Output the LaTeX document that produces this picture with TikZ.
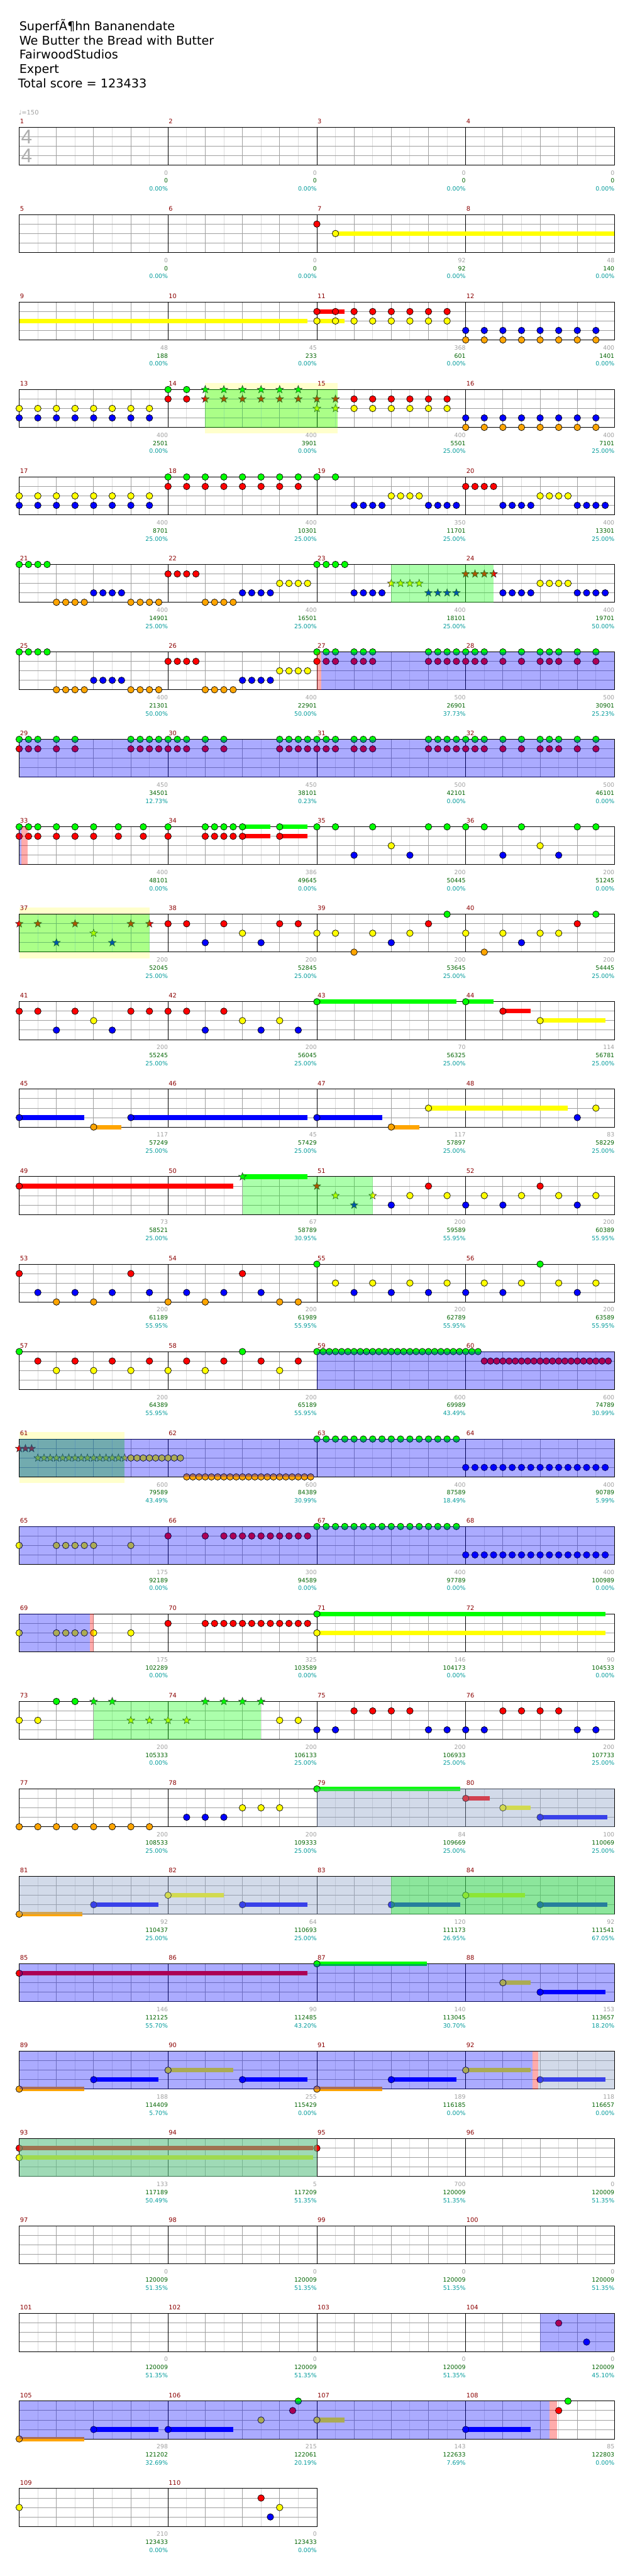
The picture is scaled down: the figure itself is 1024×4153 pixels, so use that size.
\documentclass[tikz,border=0pt]{standalone}
\usepackage{fontspec}
\setmainfont{DejaVu Sans}
\newfontfamily\arialf{Liberation Sans}
\definecolor{lane0}{HTML}{00FF00}
\definecolor{lane1}{HTML}{FF0000}
\definecolor{lane2}{HTML}{FFFF00}
\definecolor{lane3}{HTML}{0000FF}
\definecolor{lane4}{HTML}{FFA500}
\definecolor{mnumc}{HTML}{8B0000}
\definecolor{tgray}{HTML}{A0A0A0}
\definecolor{tgreen}{HTML}{006400}
\definecolor{tcyan}{HTML}{009B9B}
\definecolor{gridd}{HTML}{A0A0A0}
\definecolor{gridl}{HTML}{DCDCDC}
\definecolor{ybg}{HTML}{FFFFCC}
\definecolor{steel}{HTML}{8FA3C8}
\newcommand\setpos[3]{%
  \pgfmathtruncatemacro\rk{(#1-1)/4}%
  \pgfmathsetmacro\px{31+240*(#1-1-4*\rk)+30*(#2)}%
  \pgfmathsetmacro\py{205+141*\rk+15.25*(#3)}}
\newcommand\nt[3]{\setpos{#1}{#2}{#3}%
  \filldraw[fill=lane#3,draw=black,line width=0.7pt] (\px,\py) circle[radius=5.3pt];}
\newcommand\st[3]{\setpos{#1}{#2}{#3}%
  \filldraw[fill=lane#3,draw=black!80,line width=0.6pt] (\px,\py) +(90:6.5pt) -- +(126:2.7pt) -- +(162:6.5pt) -- +(198:2.7pt) -- +(234:6.5pt) -- +(270:2.7pt) -- +(306:6.5pt) -- +(342:2.7pt) -- +(18:6.5pt) -- +(54:2.7pt) -- cycle;}
\newcommand\sus[4]{\setpos{#1}{#2}{#4}%
  \pgfmathsetmacro\pxb{\px+30*((#3)-(#2))}%
  \fill[lane#4] (\px,\py-3.6) rectangle (\pxb,\py+3.6);}
\newcommand\ms[3]{\foreach \tq in {#3}{\nt{#1}{\tq}{#2}}}
\newcommand\mst[3]{\foreach \tq in {#3}{\st{#1}{\tq}{#2}}}
\newcommand\ovl[5]{\setpos{#2}{#3}{0}\let\oxa\px\let\oya\py\setpos{#4}{#5}{4}%
  \fill[#1] (\oxa,\oya) rectangle (\px,\py);}
\newcommand\ybgr[4]{\setpos{#1}{#2}{0}\let\oxa\px\let\oya\py\setpos{#3}{#4}{4}%
  \fill[ybg] (\oxa,\oya-11) rectangle (\px,\py+10);}
\newcommand\ovx[4]{\fill[#1] (#3,{205+141*#2}) rectangle (#4,{266+141*#2});}
\begin{document}
\begin{tikzpicture}[x=1pt,y=-1pt,
  hdr/.style={anchor=base west,inner sep=0pt,font=\fontsize{19.5}{23}\selectfont},
  mn/.style={anchor=base west,inner sep=0pt,text=mnumc,font=\fontsize{10}{12}\selectfont},
  ft/.style={anchor=base east,inner sep=0pt,font=\fontsize{9.5}{11}\selectfont},
  gov/.style={green,opacity=0.33},
  bov/.style={blue,opacity=0.33},
  sov/.style={steel,opacity=0.4},
  pov/.style={red,opacity=0.33}]
\useasboundingbox (0,0) rectangle (1024,4153);
\fill[white] (0,0) rectangle (1024,4153);
% header
\node[hdr] (t1) at (31,49) {SuperfÃ¶hn Bananendate};
\node[hdr] (t2) at (31,72) {We Butter the Bread with Butter};
\node[hdr] (t3) at (31,95) {FairwoodStudios};
\node[hdr] (t4) at (31,118) {Expert};
\node[hdr] (t5) at (29,141) {Total score = 123433};
\node[anchor=base west,inner sep=0pt,text=tgray,font=\fontsize{10}{12}\selectfont] (tempo) at (30,185) {♩=150};
% star phrase backgrounds
\ybgr{14}{2}{15}{1.1}
\ybgr{37}{0}{37}{7}
\ybgr{61}{0}{61}{5.67}
% staff grid
\foreach \k in {0,...,27}{
  \pgfmathtruncatemacro\nm{\k==27 ? 2 : 4}
  \pgfmathsetmacro\tp{205+141*\k}
  \pgfmathsetmacro\bt{\tp+61}
  \pgfmathsetmacro\xe{31+240*\nm}
  \pgfmathtruncatemacro\nh{4*\nm-1}
  \foreach \j in {0,...,\nh}{
    \draw[gridl,line width=1pt] ({61+60*\j},\tp) -- ({61+60*\j},\bt);}
  \foreach \i in {1,2,3}{
    \draw[gridd,line width=1pt] (31,{\tp+15.25*\i}) -- (\xe,{\tp+15.25*\i});}
  \foreach \j in {1,...,\nh}{
    \draw[gridd,line width=1pt] ({31+60*\j},\tp) -- ({31+60*\j},\bt);}
  \foreach \j in {1,...,\nm}{
    \draw[black,line width=1pt] ({31+240*\j},\tp) -- ({31+240*\j},\bt);}
  \draw[black,line width=1pt] (31,\tp) rectangle (\xe,\bt);
}
\node[anchor=base west,inner sep=0pt,text=tgray!85,font=\arialf\fontsize{32}{32}\selectfont] (ts1) at (34,232) {4};
\node[anchor=base west,inner sep=0pt,text=tgray!85,font=\arialf\fontsize{32}{32}\selectfont] (ts2) at (34,262) {4};
% ---------------- notes
% row 2
\sus{7}{1}{16}{2}\nt{7}{0}{1}\nt{7}{1}{2}
% row 3
\sus{9}{0}{15.5}{2}
\sus{11}{0}{1.5}{1}\sus{11}{0}{1.5}{2}
\ms{11}{1}{0,...,7}\ms{11}{2}{0,...,7}
\ms{12}{3}{0,...,7}\ms{12}{4}{0,...,7}
% row 4
\ms{13}{2}{0,...,7}\ms{13}{3}{0,...,7}
\ms{14}{0}{0,1}\ms{14}{1}{0,1}
\mst{14}{0}{2,...,7}\mst{14}{1}{2,...,7}
\mst{15}{1}{0,1}\mst{15}{2}{0,1}
\ms{15}{1}{2,...,7}\ms{15}{2}{2,...,7}
\ms{16}{3}{0,...,7}\ms{16}{4}{0,...,7}
% row 5
\ms{17}{2}{0,...,7}\ms{17}{3}{0,...,7}
\ms{18}{0}{0,...,7}\ms{18}{1}{0,...,7}
\ms{19}{0}{0,1}\ms{19}{3}{2,2.5,3,3.5,6,6.5,7,7.5}\ms{19}{2}{4,4.5,5,5.5}
\ms{20}{1}{0,0.5,1,1.5}\ms{20}{3}{2,2.5,3,3.5,6,6.5,7,7.5}\ms{20}{2}{4,4.5,5,5.5}
% row 6
\ms{21}{0}{0,0.5,1,1.5}\ms{21}{4}{2,2.5,3,3.5,6,6.5,7,7.5}\ms{21}{3}{4,4.5,5,5.5}
\ms{22}{1}{0,0.5,1,1.5}\ms{22}{4}{2,2.5,3,3.5}\ms{22}{3}{4,4.5,5,5.5}\ms{22}{2}{6,6.5,7,7.5}
\ms{23}{0}{0,0.5,1,1.5}\ms{23}{3}{2,2.5,3,3.5}\mst{23}{2}{4,4.5,5,5.5}\mst{23}{3}{6,6.5,7,7.5}
\mst{24}{1}{0,0.5,1,1.5}\ms{24}{3}{2,2.5,3,3.5,6,6.5,7,7.5}\ms{24}{2}{4,4.5,5,5.5}
% row 7
\ms{25}{0}{0,0.5,1,1.5}\ms{25}{4}{2,2.5,3,3.5,6,6.5,7,7.5}\ms{25}{3}{4,4.5,5,5.5}
\ms{26}{1}{0,0.5,1,1.5}\ms{26}{4}{2,2.5,3,3.5}\ms{26}{3}{4,4.5,5,5.5}\ms{26}{2}{6,6.5,7,7.5}
\ms{27}{0}{0,0.5,1,2,2.5,3,6,6.5,7,7.5}\ms{27}{1}{0,0.5,1,2,2.5,3,6,6.5,7,7.5}
\ms{28}{0}{0,0.5,1,2,3,4,4.5,5,6,7}\ms{28}{1}{0,0.5,1,2,3,4,4.5,5,6,7}
% row 8
\ms{29}{0}{0,0.5,1,2,3,6,6.5,7,7.5}\ms{29}{1}{0,0.5,1,2,3,6,6.5,7,7.5}
\ms{30}{0}{0,0.5,1,2,3,6,6.5,7,7.5}\ms{30}{1}{0,0.5,1,2,3,6,6.5,7,7.5}
\ms{31}{0}{0,0.5,1,2,2.5,3,6,6.5,7,7.5}\ms{31}{1}{0,0.5,1,2,2.5,3,6,6.5,7,7.5}
\ms{32}{0}{0,0.5,1,2,3,4,4.5,5,6,7}\ms{32}{1}{0,0.5,1,2,3,4,4.5,5,6,7}
% row 9
\ms{33}{0}{0,0.5,1,2,3,4,5.33,6.67}\ms{33}{1}{0,0.5,1,2,3,4,5.33,6.67}
\sus{34}{4}{5.5}{0}\sus{34}{4}{5.5}{1}\sus{34}{6}{7.5}{0}\sus{34}{6}{7.5}{1}
\ms{34}{0}{0,2,2.5,3,3.5,4,6}\ms{34}{1}{0,2,2.5,3,3.5,4,6}
\ms{35}{0}{0,1,3,6,7}\ms{35}{3}{2,5}\ms{35}{2}{4}
\ms{36}{0}{0,1,3,6,7}\ms{36}{3}{2,5}\ms{36}{2}{4}
% row 10
\mst{37}{1}{0,1,3,6,7}\mst{37}{3}{2,5}\mst{37}{2}{4}
\ms{38}{1}{0,1,3,6,7}\ms{38}{3}{2,5}\ms{38}{2}{4}
\ms{39}{2}{0,1,3,5}\ms{39}{4}{2}\ms{39}{3}{4}\ms{39}{1}{6}\ms{39}{0}{7}
\ms{40}{2}{0,2,4,5}\ms{40}{4}{1}\ms{40}{3}{3}\ms{40}{1}{6}\ms{40}{0}{7}
% row 11
\ms{41}{1}{0,1,3,6,7}\ms{41}{3}{2,5}\ms{41}{2}{4}
\ms{42}{1}{0,1,3}\ms{42}{3}{2,5,7}\ms{42}{2}{4,6}
\sus{43}{0}{7.5}{0}\nt{43}{0}{0}
\sus{44}{0}{1.5}{0}\nt{44}{0}{0}\sus{44}{2}{3.5}{1}\nt{44}{2}{1}\sus{44}{4}{7.5}{2}\nt{44}{4}{2}
% row 12
\sus{45}{0}{3.5}{3}\nt{45}{0}{3}\sus{45}{4}{5.5}{4}\nt{45}{4}{4}\sus{45}{6}{15.5}{3}\nt{45}{6}{3}
\sus{47}{0}{3.5}{3}\nt{47}{0}{3}\sus{47}{4}{5.5}{4}\nt{47}{4}{4}\sus{47}{6}{13.5}{2}\nt{47}{6}{2}
\nt{48}{6}{3}\nt{48}{7}{2}
% row 13
\sus{49}{0}{11.5}{1}\nt{49}{0}{1}
\sus{50}{4}{7.5}{0}\st{50}{4}{0}
\st{51}{0}{1}\st{51}{1}{2}\st{51}{2}{3}\st{51}{3}{2}
\nt{51}{4}{3}\nt{51}{5}{2}\nt{51}{6}{1}\nt{51}{7}{2}
\ms{52}{3}{0,2,6}\ms{52}{2}{1,3,5,7}\ms{52}{1}{4}
% row 14
\ms{53}{1}{0,6}\ms{53}{3}{1,3,5,7}\ms{53}{4}{2,4}
\ms{54}{4}{0,2,6,7}\ms{54}{3}{1,3,5}\ms{54}{1}{4}
\ms{55}{0}{0}\ms{55}{2}{1,3,5,7}\ms{55}{3}{2,4,6}
\ms{56}{3}{0,2,6}\ms{56}{2}{1,3,5,7}\ms{56}{0}{4}
% row 15
\ms{57}{0}{0}\ms{57}{1}{1,3,5,7}\ms{57}{2}{2,4,6}
\ms{58}{2}{0,2,6}\ms{58}{1}{1,3,5,7}\ms{58}{0}{4}
\foreach \i in {0,...,26}{\nt{59}{\i/3}{0}}
\foreach \i in {0,...,20}{\nt{60}{1+\i/3}{1}}
% row 16
\foreach \i in {0,1,2}{\st{61}{\i/3}{1}}
\foreach \i in {0,...,14}{\st{61}{1+\i/3}{2}}
\foreach \i in {0,...,8}{\nt{61}{6+\i/3}{2}}
\foreach \i in {0,...,20}{\nt{62}{1+\i/3}{4}}
\ms{63}{0}{0,0.5,...,7.5}\ms{64}{3}{0,0.5,...,7.5}
% row 17
\ms{65}{2}{0,2,2.5,3,3.5,4,6}
\ms{66}{1}{0,2,3,3.5,...,7.5}
\ms{67}{0}{0,0.5,...,7.5}\ms{68}{3}{0,0.5,...,7.5}
% row 18
\ms{69}{2}{0,2,2.5,3,3.5,4,6}
\ms{70}{1}{0,2,2.5,...,7.5}
\sus{71}{0}{15.5}{0}\sus{71}{0}{15.5}{2}\nt{71}{0}{0}\nt{71}{0}{2}
% row 19
\ms{73}{2}{0,1}\ms{73}{0}{2,3}\mst{73}{0}{4,5}\mst{73}{2}{6,7}
\mst{74}{2}{0,1}\mst{74}{0}{2,3,4,5}\ms{74}{2}{6,7}
\ms{75}{3}{0,1,6,7}\ms{75}{1}{2,3,4,5}
\ms{76}{3}{0,1,6,7}\ms{76}{1}{2,3,4,5}
% row 20
\ms{77}{4}{0,...,7}
\ms{78}{3}{1,2,3}\ms{78}{2}{4,5,6}
\sus{79}{0}{7.7}{0}\nt{79}{0}{0}
\sus{80}{0}{1.3}{1}\nt{80}{0}{1}
\sus{80}{2}{3.5}{2}\nt{80}{2}{2}
\sus{80}{4}{7.6}{3}\nt{80}{4}{3}
% row 21
\sus{81}{0}{3.4}{4}\nt{81}{0}{4}\sus{81}{4}{7.5}{3}\nt{81}{4}{3}
\sus{82}{0}{3}{2}\nt{82}{0}{2}\sus{82}{4}{7.5}{3}\nt{82}{4}{3}
\sus{83}{4}{7.7}{3}\nt{83}{4}{3}
\sus{84}{0}{3.2}{2}\nt{84}{0}{2}\sus{84}{4}{7.6}{3}\nt{84}{4}{3}
% row 22
\sus{85}{0}{15.5}{1}\nt{85}{0}{1}
\sus{87}{0}{5.9}{0}\nt{87}{0}{0}
\sus{88}{2}{3.5}{2}\nt{88}{2}{2}\sus{88}{4}{7.5}{3}\nt{88}{4}{3}
% row 23
\sus{89}{0}{3.5}{4}\nt{89}{0}{4}\sus{89}{4}{7.5}{3}\nt{89}{4}{3}
\sus{90}{0}{3.5}{2}\nt{90}{0}{2}\sus{90}{4}{7.5}{3}\nt{90}{4}{3}
\sus{91}{0}{3.5}{4}\nt{91}{0}{4}\sus{91}{4}{7.5}{3}\nt{91}{4}{3}
\sus{92}{0}{3.5}{2}\nt{92}{0}{2}\sus{92}{4}{7.5}{3}\nt{92}{4}{3}
% row 24
\sus{93}{0}{15.8}{1}\sus{93}{0}{15.8}{2}\nt{93}{0}{1}\nt{93}{0}{2}
\nt{95}{0}{1}
% rows 26-28
\nt{104}{5}{1}\nt{104}{6.5}{3}
\sus{105}{0}{3.5}{4}\nt{105}{0}{4}\sus{105}{4}{7.5}{3}\nt{105}{4}{3}
\sus{106}{0}{3.5}{3}\nt{106}{0}{3}
\nt{106}{5}{2}\nt{106}{6.7}{1}\nt{106}{7}{0}\sus{107}{0}{1.5}{2}\nt{107}{0}{2}
\sus{108}{0}{3.5}{3}\nt{108}{0}{3}
\nt{108}{5}{1}\nt{108}{5.5}{0}
\nt{109}{0}{2}\nt{110}{5}{1}\nt{110}{5.5}{3}\nt{110}{6}{2}
% ---------------- overlays
\ovl{gov}{14}{2}{15}{1.1}
\ovl{gov}{23}{4}{24}{1.5}
\ovl{gov}{37}{0}{37}{7}
\ovl{gov}{50}{4}{51}{3}
\ovl{gov}{61}{0}{61}{5.67}
\ovl{gov}{73}{4}{74}{5}
\ovx{pov}{6}{511}{518}
\ovl{bov}{27}{0.25}{28}{8}
\ovl{bov}{29}{0}{32}{8}
\ovx{bov}{8}{31}{34}
\ovx{pov}{8}{34}{45}
\ovl{bov}{59}{0}{60}{8}
\ovl{bov}{61}{0}{64}{8}
\ovl{bov}{65}{0}{68}{8}
\ovx{bov}{17}{31}{145}
\ovx{pov}{17}{145}{151}
\ovl{sov}{79}{0}{80}{8}
\ovl{sov}{81}{0}{84}{8}
\ovl{gov}{83}{4}{84}{8}
\ovl{bov}{85}{0}{88}{8}
\ovl{bov}{89}{0}{92}{3.6}
\ovl{pov}{92}{3.6}{92}{3.9}
\ovl{sov}{92}{3.9}{92}{8}
\ovl{gov}{93}{0}{94}{8}
\ovl{sov}{93}{0}{94}{8}
\ovl{bov}{104}{4}{104}{8}
\ovl{bov}{105}{0}{108}{4.5}
\ovl{pov}{108}{4.5}{108}{4.9}
% ---------------- measure numbers
\foreach \m in {1,...,110}{
  \pgfmathtruncatemacro\rk{(\m-1)/4}
  \pgfmathsetmacro\fx{32+240*(\m-1-4*\rk)}
  \pgfmathsetmacro\fy{199+141*\rk}
  \node[mn] (mn\m) at (\fx,\fy) {\m};
}
% ---------------- footers
\foreach \m/\a/\b/\c in {1/0/0/0.00,2/0/0/0.00,3/0/0/0.00,4/0/0/0.00,
 5/0/0/0.00,6/0/0/0.00,7/92/92/0.00,8/48/140/0.00,
 9/48/188/0.00,10/45/233/0.00,11/368/601/0.00,12/400/1401/0.00,
 13/400/2501/0.00,14/400/3901/0.00,15/400/5501/25.00,16/400/7101/25.00,
 17/400/8701/25.00,18/400/10301/25.00,19/350/11701/25.00,20/400/13301/25.00,
 21/400/14901/25.00,22/400/16501/25.00,23/400/18101/25.00,24/400/19701/50.00,
 25/400/21301/50.00,26/400/22901/50.00,27/500/26901/37.73,28/500/30901/25.23,
 29/450/34501/12.73,30/450/38101/0.23,31/500/42101/0.00,32/500/46101/0.00,
 33/400/48101/0.00,34/386/49645/0.00,35/200/50445/0.00,36/200/51245/0.00,
 37/200/52045/25.00,38/200/52845/25.00,39/200/53645/25.00,40/200/54445/25.00,
 41/200/55245/25.00,42/200/56045/25.00,43/70/56325/25.00,44/114/56781/25.00,
 45/117/57249/25.00,46/45/57429/25.00,47/117/57897/25.00,48/83/58229/25.00,
 49/73/58521/25.00,50/67/58789/30.95,51/200/59589/55.95,52/200/60389/55.95,
 53/200/61189/55.95,54/200/61989/55.95,55/200/62789/55.95,56/200/63589/55.95,
 57/200/64389/55.95,58/200/65189/55.95,59/600/69989/43.49,60/600/74789/30.99,
 61/600/79589/43.49,62/600/84389/30.99,63/400/87589/18.49,64/400/90789/5.99,
 65/175/92189/0.00,66/300/94589/0.00,67/400/97789/0.00,68/400/100989/0.00,
 69/175/102289/0.00,70/325/103589/0.00,71/146/104173/0.00,72/90/104533/0.00,
 73/200/105333/0.00,74/200/106133/25.00,75/200/106933/25.00,76/200/107733/25.00,
 77/200/108533/25.00,78/200/109333/25.00,79/84/109669/25.00,80/100/110069/25.00,
 81/92/110437/25.00,82/64/110693/25.00,83/120/111173/26.95,84/92/111541/67.05,
 85/146/112125/55.70,86/90/112485/43.20,87/140/113045/30.70,88/153/113657/18.20,
 89/188/114409/5.70,90/255/115429/0.00,91/189/116185/0.00,92/118/116657/0.00,
 93/133/117189/50.49,94/5/117209/51.35,95/700/120009/51.35,96/0/120009/51.35,
 97/0/120009/51.35,98/0/120009/51.35,99/0/120009/51.35,100/0/120009/51.35,
 101/0/120009/51.35,102/0/120009/51.35,103/0/120009/51.35,104/0/120009/45.10,
 105/298/121202/32.69,106/215/122061/20.19,107/143/122633/7.69,108/85/122803/0.00,
 109/210/123433/0.00,110/0/123433/0.00}{
  \pgfmathtruncatemacro\rk{(\m-1)/4}
  \pgfmathsetmacro\fx{31+240*(\m-4*\rk)}
  \pgfmathsetmacro\fy{266+141*\rk}
  \node[ft,text=tgray] (fa\m) at (\fx,\fy+16) {\a};
  \node[ft,text=tgreen] (fb\m) at (\fx,\fy+29) {\b};
  \node[ft,text=tcyan] (fc\m) at (\fx,\fy+42) {\c\%};
}
\end{tikzpicture}
\end{document}
